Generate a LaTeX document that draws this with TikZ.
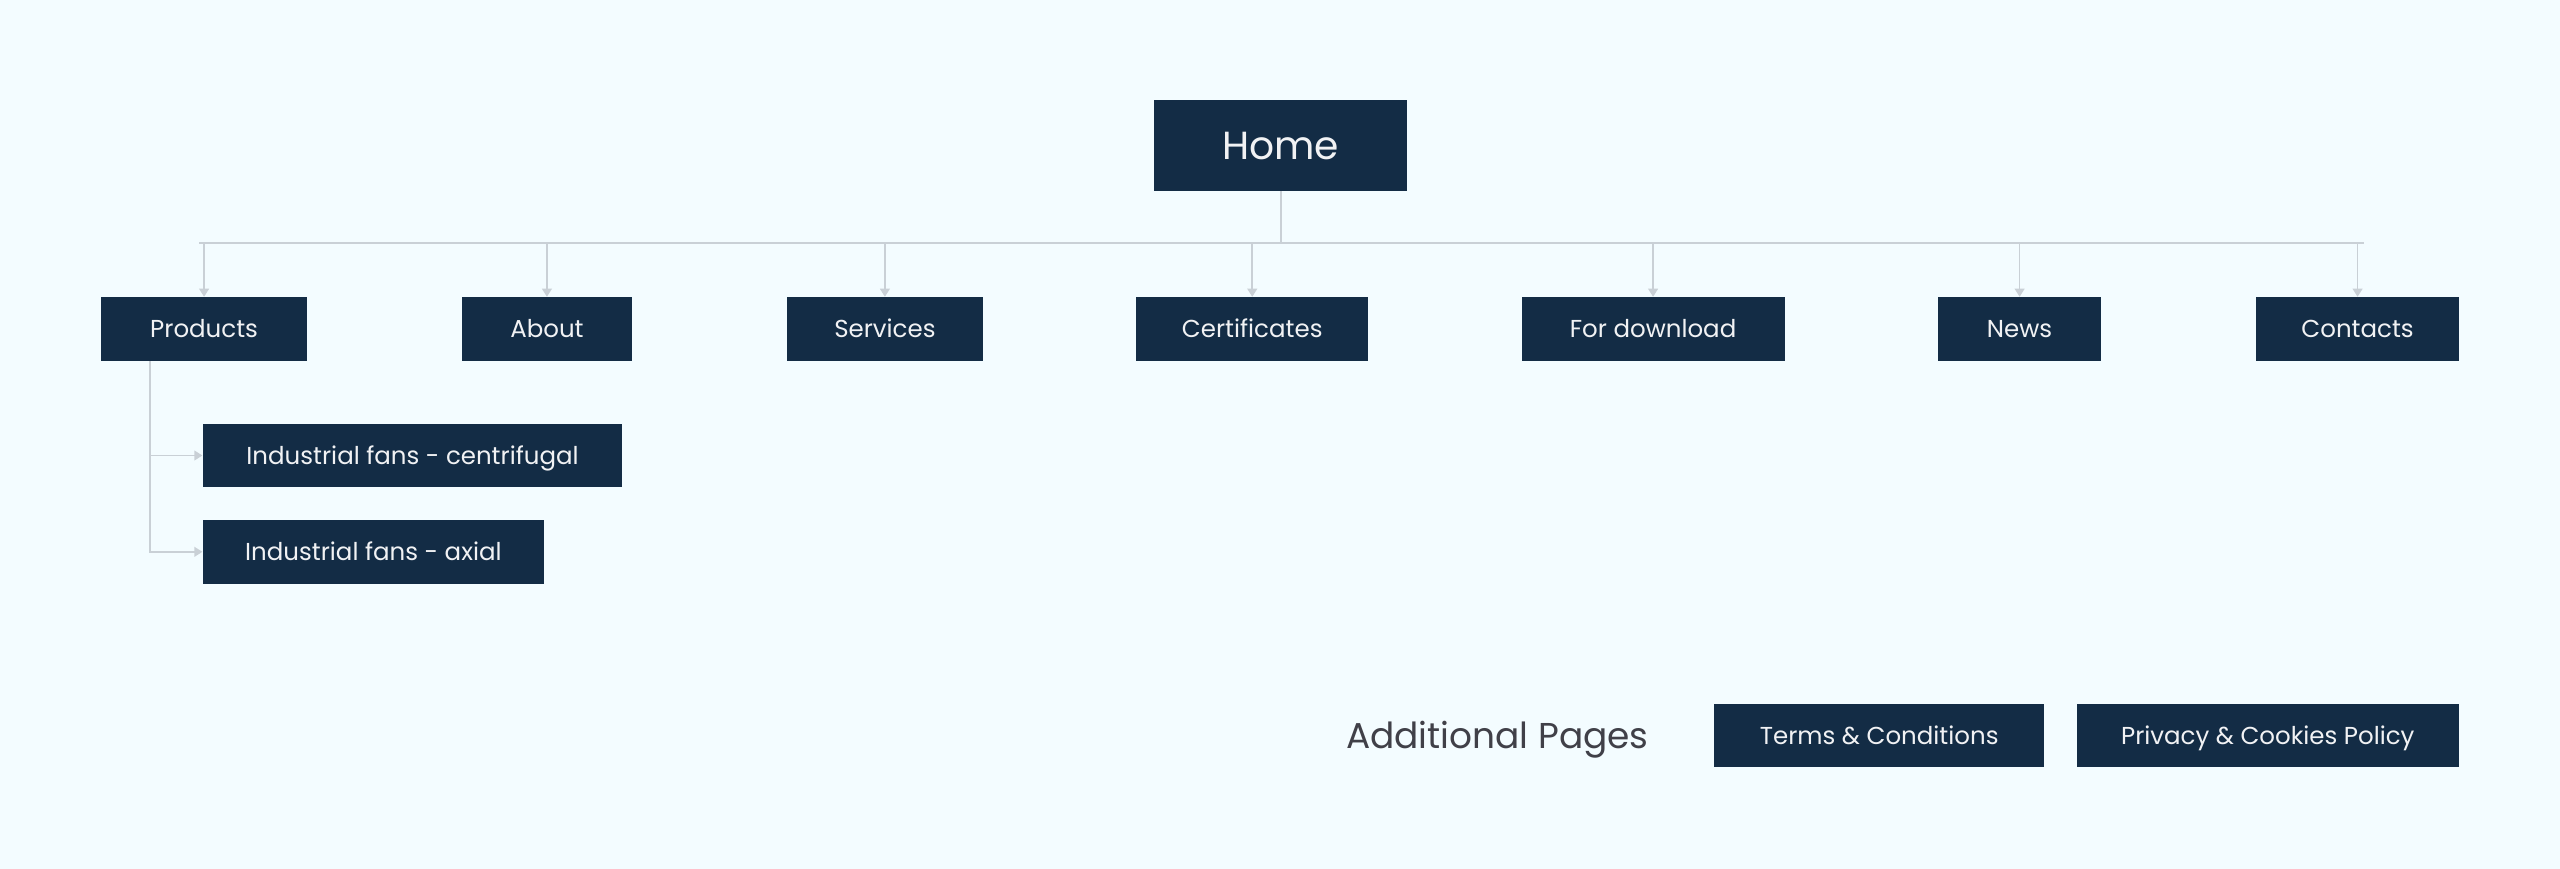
\documentclass[tikz,border=0pt]{standalone}
\usepackage{fontspec}
\setmainfont{Poppins}
\usepackage{xcolor}
\usetikzlibrary{arrows.meta,positioning,calc}

\definecolor{bgcol}{HTML}{F3FCFF}
\definecolor{navy}{HTML}{132C45}
\definecolor{linkgray}{HTML}{C9D0D6}
\definecolor{textgray}{HTML}{404048}

\begin{document}
\begin{tikzpicture}[x=1pt, y=1pt]
\tikzstyle{page}=[fill=navy, text=white!94!navy, inner sep=0pt, minimum height=39pt, text height=13.5pt, text depth=3pt, font=\fontsize{15}{18}\selectfont]
\tikzstyle{link}=[draw=linkgray, line width=1pt]
\tikzstyle{arrow}=[link, -{Triangle[length=5pt,width=6pt]}]

% background
\fill [bgcol] (0,0) rectangle (1568,532);
\useasboundingbox (0,0) rectangle (1568,532);

\node [page, minimum width=155pt, minimum height=56pt, text height=20pt, text depth=2pt, font=\fontsize{24}{28}\selectfont] (home) at (784.5,443) {Home};

\node [page, minimum width=126pt] (products) at (125,330.5) {Products};
\node [page, minimum width=104pt] (about) at (335,330.5) {About};
\node [page, minimum width=120pt] (services) at (542,330.5) {Services};
\node [page, minimum width=142pt] (certificates) at (767,330.5) {Certificates};
\node [page, minimum width=161pt] (download) at (1012.5,330.5) {For download};
\node [page, minimum width=100pt] (news) at (1237,330.5) {News};
\node [page, minimum width=124pt] (contacts) at (1444,330.5) {Contacts};

\node [page, minimum width=257pt, anchor=west] (centrifugal) at (124,253) {Industrial fans - centrifugal};
\node [page, minimum width=209pt, anchor=west] (axial) at (124,194) {Industrial fans - axial};

\node [page, minimum width=202pt] (terms) at (1151,81.5) {Terms \& Conditions};
\node [page, minimum width=234pt] (privacy) at (1389,81.5) {Privacy \& Cookies Policy};
\node [anchor=east, text=textgray, inner sep=0pt, text height=19.5pt, text depth=4pt, font=\fontsize{22}{26}\selectfont] (additional) at (1010,81.5) {Additional Pages};

% bar under home
\coordinate (barL) at (122,383);
\coordinate (barR) at (1447.7,383);
\draw [link] (barL) -- (barR);
\draw [link] (home.south) -- (home.south |- barL);
\foreach \n in {products,about,services,certificates,download,news,contacts}
  \draw [arrow] (\n.north |- barL) -- (\n.north);

% products children
\coordinate (stem) at ([xshift=-33pt]products.south);
\draw [arrow] (stem) |- (axial.west);
\draw [arrow] (stem |- centrifugal.west) -- (centrifugal.west);

\end{tikzpicture}
\end{document}
